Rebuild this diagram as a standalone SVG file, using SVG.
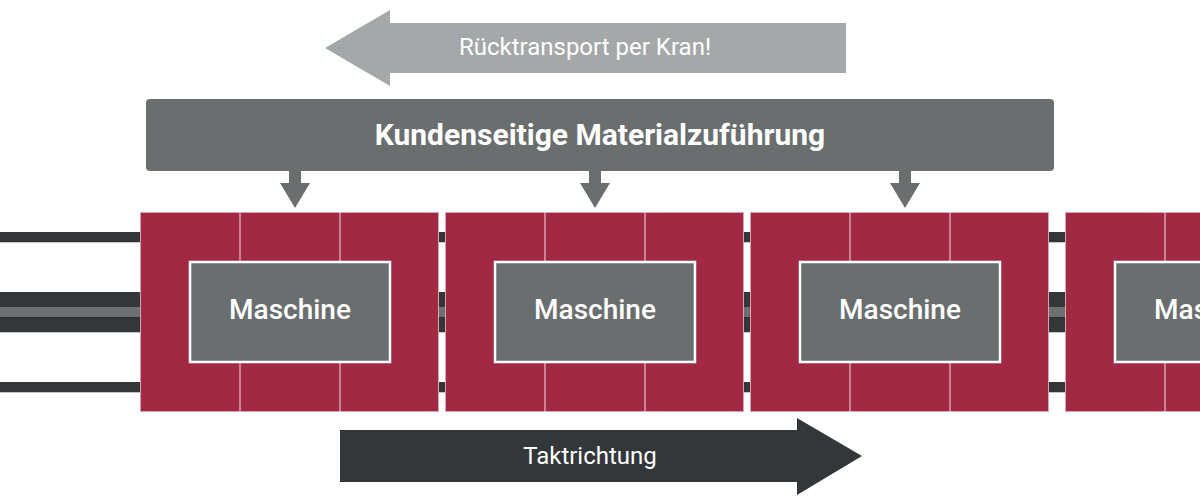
<svg xmlns="http://www.w3.org/2000/svg" width="1200" height="500" viewBox="0 0 1200 500">
<style>
.rail{fill:#33373a}
.edge{fill:#c4c6c7}
.mod{fill:#a12944;stroke:#d9a3b0;stroke-width:1}
.div{stroke:#e3bfc8;stroke-width:1.2}
.box{fill:#6b6e6f;stroke:#ffffff;stroke-width:2.5}
.mt{font-family:Roboto,"Liberation Sans",sans-serif;font-size:28px;font-weight:500;fill:#ffffff;text-anchor:middle}
.lbl{font-family:Roboto,"Liberation Sans",sans-serif;font-size:24px;fill:#ffffff;text-anchor:middle}
.dn{fill:#6b6e6f}
</style>
<rect width="1200" height="500" fill="#ffffff"/>
<g id="rails">
<rect class="edge" x="0" y="232" width="1200" height="11"/>
<rect class="rail" x="0" y="232" width="1200" height="10"/>
<rect class="edge" x="0" y="292" width="1200" height="41"/>
<rect class="rail" x="0" y="292" width="1200" height="40"/>
<rect x="0" y="307" width="1200" height="10" fill="#6d7070"/>
<rect x="0" y="317" width="1200" height="1" fill="#2a2d2f"/>
<rect class="edge" x="0" y="382" width="1200" height="11"/>
<rect class="rail" x="0" y="382" width="1200" height="10"/>
</g>
<g id="connectors">
<g id="arrow-rueck">
<polygon points="325,48 390,10 390,23 846,23 846,73 390,73 390,86" fill="#a5a8a9"/>
<text class="lbl" x="585" y="55">Rücktransport per Kran!</text>
</g>
<g id="arrow-takt">
<polygon points="340,430 797,430 797,418 862,456 797,495 797,482 340,482" fill="#33373a"/>
<text class="lbl" x="590" y="464">Taktrichtung</text>
</g>
<polygon class="dn" points="289,170 301,170 301,183 310,183 295,208 280,183 289,183"/>
<polygon class="dn" points="589,170 601,170 601,183 610,183 595,208 580,183 589,183"/>
<polygon class="dn" points="899,170 911,170 911,183 920,183 905,208 890,183 899,183"/>
</g>
<g id="materialzufuehrung">
<rect x="146" y="99" width="908" height="72" rx="4" fill="#6b6e6f"/>
<text x="600" y="145" font-family="Roboto,'Liberation Sans',sans-serif" font-size="30" font-weight="700" fill="#ffffff" text-anchor="middle">Kundenseitige Materialzuführung</text>
</g>
<g id="modul1">
<rect class="mod" x="140.5" y="212.5" width="298" height="199"/>
<line class="div" x1="240" y1="212" x2="240" y2="412"/>
<line class="div" x1="340" y1="212" x2="340" y2="412"/>
<rect class="box" x="190" y="262" width="200" height="100"/>
<text class="mt" x="290" y="319">Maschine</text>
</g>
<g id="modul2">
<rect class="mod" x="445.5" y="212.5" width="298" height="199"/>
<line class="div" x1="545" y1="212" x2="545" y2="412"/>
<line class="div" x1="645" y1="212" x2="645" y2="412"/>
<rect class="box" x="495" y="262" width="200" height="100"/>
<text class="mt" x="595" y="319">Maschine</text>
</g>
<g id="modul3">
<rect class="mod" x="750.5" y="212.5" width="298" height="199"/>
<line class="div" x1="850" y1="212" x2="850" y2="412"/>
<line class="div" x1="950" y1="212" x2="950" y2="412"/>
<rect class="box" x="800" y="262" width="200" height="100"/>
<text class="mt" x="900" y="319">Maschine</text>
</g>
<g id="modul4">
<rect class="mod" x="1065.5" y="212.5" width="298" height="199"/>
<line class="div" x1="1165" y1="212" x2="1165" y2="412"/>
<rect class="box" x="1115" y="262" width="200" height="100"/>
<text class="mt" x="1215" y="319">Maschine</text>
</g>
</svg>
